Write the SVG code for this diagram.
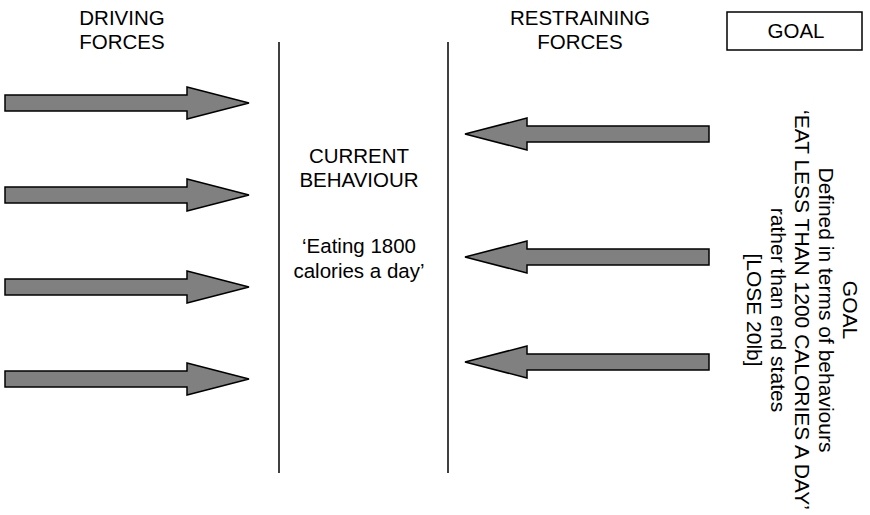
<svg xmlns="http://www.w3.org/2000/svg" width="870" height="515" viewBox="0 0 870 515">
<style>
text{font-family:"Liberation Sans",Arial,sans-serif;font-size:20.5px;fill:#000;text-anchor:middle}
.rot text{font-size:21px}
.arrow{fill:#808080;stroke:#000;stroke-width:1.5;stroke-linejoin:miter}
.line{stroke:#000;stroke-width:1.5;fill:none}
</style>
<defs>
<path id="ra" class="arrow" d="M5,-8 H187 V-16 L249,0 L187,16 V8 H5 Z"/>
<path id="la" class="arrow" d="M709,-8 H527 V-16 L465,0 L527,16 V8 H709 Z"/>
</defs>
<g id="driving-label"><text x="122" y="25">DRIVING</text><text x="122" y="49">FORCES</text></g>
<g id="restraining-label"><text x="580" y="25">RESTRAINING</text><text x="580" y="49">FORCES</text></g>
<g id="goal-box"><rect x="727" y="12" width="135" height="38" fill="#fff" stroke="#000" stroke-width="1.5"/><text x="796" y="38">GOAL</text></g>
<g id="current-behaviour">
<line class="line" x1="279" y1="42" x2="279" y2="473"/>
<line class="line" x1="448" y1="42" x2="448" y2="473"/>
<text x="359" y="163">CURRENT</text><text x="359" y="187">BEHAVIOUR</text>
<text x="359" y="253">‘Eating 1800</text><text x="359" y="278">calories a day’</text>
</g>
<g id="goal-text" class="rot" transform="translate(800,310) rotate(90)">
<text x="0" y="-43">GOAL</text>
<text x="0" y="-19">Defined in terms of behaviours</text>
<text x="0" y="5">‘EAT LESS THAN 1200 CALORIES A DAY’</text>
<text x="0" y="29">rather than end states</text>
<text x="0" y="53">[LOSE 20lb]</text>
</g>
<g id="connectors">
<use href="#ra" y="103"/><use href="#ra" y="195"/><use href="#ra" y="287"/><use href="#ra" y="379"/>
<use href="#la" y="134"/><use href="#la" y="257"/><use href="#la" y="362"/>
</g>
</svg>
